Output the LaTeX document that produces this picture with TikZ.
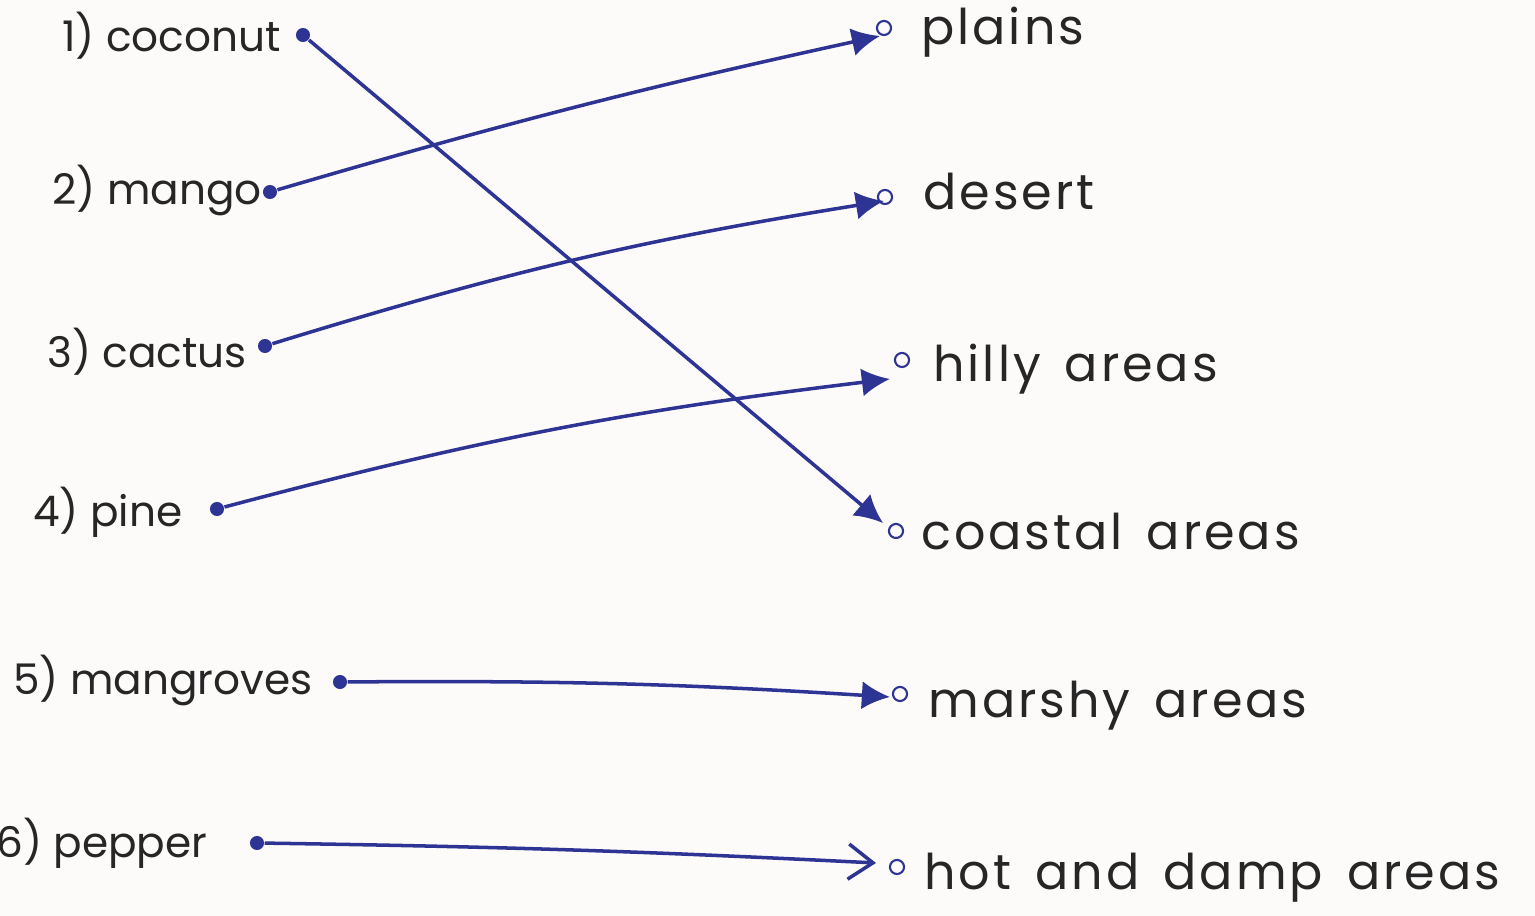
\documentclass[tikz,border=0pt]{standalone}
\usepackage{fontspec}
\setmainfont{Poppins}
\newfontfamily\gebietfont{Poppins}[WordSpace=1.5,LetterSpace=6]
\usetikzlibrary{arrows.meta}

\definecolor{tinte}{RGB}{46,52,148}
\definecolor{papier}{RGB}{253,251,250}

\tikzset{
	pflanze/.style={anchor=base west,text=black!85,font=\fontsize{12}{12}\selectfont},
	gebiet/.style={anchor=base west,text=black!85,font=\gebietfont\fontsize{14}{14}\selectfont},
	punkt/.style={circle,fill=tinte,inner sep=0pt,minimum size=4pt},
	kringel/.style={circle,draw=tinte,line width=0.6pt,inner sep=0pt,minimum size=4pt},
	linie/.style={draw=tinte,line width=1pt,-{Latex[length=8pt,width=8pt]}},
	offen/.style={draw=tinte,line width=1pt,-{Straight Barb[length=7pt,width=10pt]}}
}

\begin{document}
\begin{tikzpicture}[>=latex,x=0.01cm,y=-0.01cm]

\def\bogenbreite{1535}
\def\bogenhoehe{916}

\useasboundingbox (0,0) rectangle ({\bogenbreite},{\bogenhoehe});
\fill[papier] (0,0) rectangle ({\bogenbreite},{\bogenhoehe});

% linke Spalte
\node (coconut) at (50,52) [pflanze] {1) coconut};
\node (mango) at (40,205) [pflanze] {2) mango};
\node (cactus) at (35,368) [pflanze] {3) cactus};
\node (pine) at (21,527) [pflanze] {4) pine};
\node (mangroves) at (1,695) [pflanze] {5) mangroves};
\node (pepper) at (-16,858) [pflanze] {6) pepper};

\node (s1) at (303,35) [punkt] {};
\node (s2) at (270,192) [punkt] {};
\node (s3) at (265,346) [punkt] {};
\node (s4) at (217,509) [punkt] {};
\node (s5) at (340,682) [punkt] {};
\node (s6) at (257,843) [punkt] {};

% rechte Spalte
\node (plains) at (909,45) [gebiet] {plains};
\node (desert) at (911,210) [gebiet] {desert};
\node (hilly) at (921,382) [gebiet] {hilly areas};
\node (coastal) at (909,550) [gebiet] {coastal areas};
\node (marshy) at (916,718) [gebiet] {marshy areas};
\node (hot) at (912,890) [gebiet] {hot and damp areas};

\node (k1) at (884,28) [kringel] {};
\node (k2) at (885,197) [kringel] {};
\node (k3) at (902,360) [kringel] {};
\node (k4) at (896,531) [kringel] {};
\node (k5) at (900,694) [kringel] {};
\node (k6) at (897,867) [kringel] {};

\coordinate (t1) at (883,523);
\coordinate (t2) at (880,36);
\coordinate (t3) at (884,201);
\coordinate (t4) at (890,379);
\coordinate (t5) at (890,697);
\coordinate (t6) at (876,863);

% Zuordnungen
\draw[linie] (s1) -- (t1);
\draw[linie] (s2) to[bend left=2] (t2);
\draw[linie] (s3) to[bend left=4] (t3);
\draw[linie] (s4) to[bend left=4] (t4);
\draw[linie] (s5) to[bend left=2] (t5);
\draw[offen] (s6) to[bend left=1] (t6);

\end{tikzpicture}
\end{document}
